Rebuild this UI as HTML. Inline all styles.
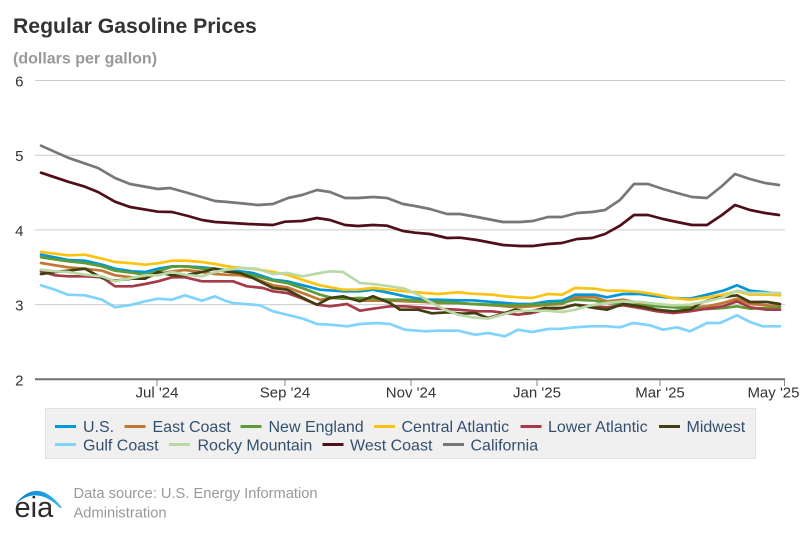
<!DOCTYPE html>
<html>
<head>
<meta charset="utf-8">
<style>
  html,body{margin:0;padding:0;background:#fff;}
  svg{display:block;}
  text{font-family:"Liberation Sans",Arial,sans-serif;}
</style>
</head>
<body>
<svg width="800" height="533" viewBox="0 0 800 533" xmlns="http://www.w3.org/2000/svg">
  <rect x="0" y="0" width="800" height="533" fill="#ffffff"/>

  <!-- Title -->
  <text x="13" y="33" font-size="21.2" font-weight="bold" fill="#333333">Regular Gasoline Prices</text>
  <text x="13" y="63.5" font-size="16" font-weight="bold" fill="#999999">(dollars per gallon)</text>

  <!-- Gridlines -->
  <g stroke="#cccccc" stroke-width="1">
    <line x1="35" y1="80.5" x2="785" y2="80.5"/>
    <line x1="35" y1="155.2" x2="785" y2="155.2"/>
    <line x1="35" y1="229.9" x2="785" y2="229.9"/>
    <line x1="35" y1="304.6" x2="785" y2="304.6"/>
  </g>
  <!-- x axis -->
  <line x1="35" y1="379.3" x2="785" y2="379.3" stroke="#707070" stroke-width="2"/>
  <g stroke="#8a8a8a" stroke-width="1">
    <line x1="157" y1="380" x2="157" y2="386"/>
    <line x1="285" y1="380" x2="285" y2="386"/>
    <line x1="411" y1="380" x2="411" y2="386"/>
    <line x1="537" y1="380" x2="537" y2="386"/>
    <line x1="660" y1="380" x2="660" y2="386"/>
    <line x1="784.5" y1="380" x2="784.5" y2="386"/>
  </g>

  <!-- Y labels -->
  <g font-size="15" fill="#333333" text-anchor="end">
    <text x="23.5" y="86.5">6</text>
    <text x="23.5" y="161.2">5</text>
    <text x="23.5" y="235.9">4</text>
    <text x="23.5" y="310.6">3</text>
    <text x="23.5" y="385.3">2</text>
  </g>
  <!-- X labels -->
  <g font-size="15" fill="#333333" text-anchor="middle">
    <text x="157" y="397.5">Jul '24</text>
    <text x="285" y="397.5">Sep '24</text>
    <text x="411" y="397.5">Nov '24</text>
    <text x="537" y="397.5">Jan '25</text>
    <text x="660" y="397.5">Mar '25</text>
    <text x="799.5" y="397.5" text-anchor="end">May '25</text>
  </g>

  <!-- Series -->
  <g fill="none" stroke-width="2.7" stroke-linejoin="round" stroke-linecap="round">
    <!-- U.S. -->
    <polyline stroke="#0096d7" points="41,254.7 68,260 85,260.7 102,264.7 115,268.7 132,271.3 145,272 158,268.7 172,266.3 185,266.3 202,267.3 215,268.7 225,270 240,271.3 253,273 273,279.7 287,281.3 307,286.3 320,289.7 343,291.3 360,291.3 373,289.7 390,293 405,296.3 425,299.7 438,299.7 458,300.3 472,300.3 492,302 505,303 518,304 532,304 548,301.3 562,300.7 575,294.7 595,294.7 607,297.3 623,294 640,294 657,296.3 673,298 690,298.7 707,294.7 723,290.7 737,285.3 750,290.7 767,292.3 780,294"/>
    <!-- East Coast -->
    <polyline stroke="#c27834" points="41,263 68,267.3 85,268.7 102,270.7 115,275.3 132,277.3 145,278 158,274 172,271.3 185,270 202,272 215,274 225,274.7 240,275.3 253,278 273,285.3 287,287.3 307,294.7 320,299.7 333,298 343,297.3 360,300.7 373,300.7 390,300.7 405,301.3 425,302 438,303 458,303 472,304 492,305.3 505,306.3 518,307.3 532,306.3 548,304.7 562,304 575,297.3 595,297.3 607,301.3 623,299.7 640,303 657,304.7 673,307.3 690,307.3 707,306.3 723,303 737,298.7 750,304 767,305.3 780,306.3"/>
    <!-- New England -->
    <polyline stroke="#5d9b37" points="41,257.3 68,261.3 85,263 102,266.3 115,270.7 132,272.7 145,274.7 158,271.3 172,266.7 185,266.3 202,268.7 215,268.7 225,271.3 240,273 253,275.3 273,280.7 287,283 307,289.7 320,294.7 333,298 343,298.7 360,298 373,298.7 390,299.7 405,299.7 425,301.3 438,302 458,303 472,304 492,304.7 505,305.3 518,305.3 532,304.7 548,304 562,303 575,299.7 595,300.7 607,303 623,304 640,305.3 657,306.3 673,307.3 690,308 707,309 723,308 737,306.3 750,308.7 767,308 780,307.3"/>
    <!-- Central Atlantic -->
    <polyline stroke="#ffc20e" points="41,252 68,255.3 85,254.7 102,258.7 115,262 132,263.3 145,264.7 158,263.3 172,260.7 185,260.7 202,262 215,264 225,266 240,268 253,268.7 273,272 287,274.7 307,281.3 320,285.3 343,289.7 357,289.7 373,288 390,289.7 405,291.3 425,293 438,294 458,292.3 472,293.7 492,294.7 505,296.3 518,297.3 532,298 548,294 562,294.7 575,288 595,288.7 607,290.7 623,290.7 640,292 657,294.7 673,298 690,299.7 707,297.3 723,294.7 737,291.3 750,294.7 767,294.7 780,295.3"/>
    <!-- Lower Atlantic -->
    <polyline stroke="#a63a48" points="41,271.3 55,275.3 68,276.3 85,276.3 102,277.3 115,286.3 132,286.3 145,284 158,281.3 172,277.3 185,277.3 202,281.3 215,281.3 225,281.3 233,281.3 247,286.3 263,288 273,291.3 287,293 303,298.7 317,304.7 330,306.3 347,304 360,310.7 373,308.7 390,306.3 405,306.3 418,307.3 438,308.7 458,309.7 478,311.3 492,311.3 518,314.7 532,313 545,309.7 562,308 575,304.7 595,306.3 607,307.3 623,305.3 640,308 657,311.3 673,313 690,311.3 707,308.7 723,306.3 737,301.3 750,307.3 767,309.7 780,309.7"/>
    <!-- Midwest -->
    <polyline stroke="#433d12" points="41,274 55,272 68,270.7 85,268.7 102,278 115,280.7 132,278.7 145,278.7 158,272 172,275.3 185,275.3 202,272 215,268.7 225,271.3 240,273 253,278 273,288 287,289.7 303,298 317,304.7 330,298 343,296.3 360,301.3 373,296.3 390,303 400,309.7 418,309.7 432,313.3 448,312.3 462,313.7 475,313 488,318 502,314 515,309.7 528,312 545,308 562,308 575,304.7 595,308 607,309.7 623,304 640,306.3 657,309.7 673,311.3 690,309.7 700,303 717,298 737,295.3 750,302 767,302 780,304"/>
    <!-- Gulf Coast -->
    <polyline stroke="#80d3fb" points="41,285.3 55,289.7 68,294.7 85,295.3 102,299.7 115,307.3 132,304.7 145,301.3 158,298.7 172,299.7 185,295.3 202,300.7 215,296.3 225,300.7 233,303 260,305.3 273,311.3 287,314.7 303,318.7 317,324 330,324.7 347,326.3 360,324 377,323 390,324 405,329.7 425,331.3 438,330.7 458,330.7 475,334.7 488,333 505,336.3 518,329.7 532,332 548,329 562,328.7 575,327.3 590,326.3 607,326.3 620,327.3 633,323 650,325.3 663,329.7 677,327.3 690,331.3 707,323 720,323 737,315.3 750,322 763,326.3 780,326.3"/>
    <!-- Rocky Mountain -->
    <polyline stroke="#b9d9a7" points="41,269.7 55,271.3 68,272 85,274.7 102,276.3 115,281.3 132,278 145,275.3 158,275.3 172,272 185,274.7 202,276.3 215,272 225,270 240,268 257,268.7 273,274 287,273 303,276.3 320,273 330,271.3 343,272 360,283 373,284 390,286.3 405,288.7 418,294.7 432,303 445,309.7 458,314.7 472,317.3 488,318.7 502,314.7 515,311.3 532,310.7 548,310.7 562,312 575,309.7 590,305.5 607,303 623,301.3 640,302 657,304 673,305.3 690,304.7 707,301.3 723,297.3 737,290.7 750,293 767,293 780,293"/>
    <!-- West Coast -->
    <polyline stroke="#4f0f18" points="41,172.7 68,181.7 85,186.7 98,192 115,201.7 130,207 158,211.7 172,212 188,216 202,220 215,222 232,223 248,224 273,225 285,221.7 302,221 317,218 330,220 345,225 358,226 373,225 387,225.7 403,231 415,232.7 430,234 447,238 460,237.7 477,240 503,245 520,246 533,246 548,244 562,243 577,239 592,238 605,234 620,225.7 634,215 648,215 663,219 677,222 692,225 707,225 722,215 735,205 750,210 765,213 779,215"/>
    <!-- California -->
    <polyline stroke="#777777" points="41,145.7 68,157.7 98,168 115,178 130,184 158,189 170,188 188,193 215,201 228,202 248,204 258,205 273,204 288,198 302,195 317,190 330,192 345,198 358,198 373,197 387,198 403,204 415,206 430,209 447,214 460,214 477,217 503,222 520,222 533,221 548,217 562,217 577,213 592,212 605,210 620,200 634,184 648,184 663,189 677,193 692,197 707,198 722,186 735,174 750,179 765,183 779,185"/>
  </g>

  <!-- Legend -->
  <rect x="45.5" y="408.5" width="710" height="50" fill="#f0f0f0" stroke="#e2e2e2" stroke-width="1"/>
  <g stroke-width="3" stroke-linecap="butt">
    <line x1="55" y1="426.5" x2="76" y2="426.5" stroke="#0096d7"/>
    <line x1="124.5" y1="426.5" x2="145.5" y2="426.5" stroke="#c27834"/>
    <line x1="240.5" y1="426.5" x2="261.5" y2="426.5" stroke="#5d9b37"/>
    <line x1="374" y1="426.5" x2="395" y2="426.5" stroke="#ffc20e"/>
    <line x1="520.5" y1="426.5" x2="541.5" y2="426.5" stroke="#a63a48"/>
    <line x1="659" y1="426.5" x2="680" y2="426.5" stroke="#433d12"/>
    <line x1="55" y1="444.5" x2="76" y2="444.5" stroke="#80d3fb"/>
    <line x1="169" y1="444.5" x2="190" y2="444.5" stroke="#b9d9a7"/>
    <line x1="322.5" y1="444.5" x2="343.5" y2="444.5" stroke="#4f0f18"/>
    <line x1="443" y1="444.5" x2="464" y2="444.5" stroke="#777777"/>
  </g>
  <g font-size="16" fill="#34506e">
    <text x="83" y="432">U.S.</text>
    <text x="152.5" y="432">East Coast</text>
    <text x="268.5" y="432">New England</text>
    <text x="401.5" y="432">Central Atlantic</text>
    <text x="548" y="432">Lower Atlantic</text>
    <text x="686.5" y="432">Midwest</text>
    <text x="83" y="450.5">Gulf Coast</text>
    <text x="197.5" y="450.5">Rocky Mountain</text>
    <text x="350" y="450.5">West Coast</text>
    <text x="470.5" y="450.5">California</text>
  </g>

  <!-- EIA logo -->
  <defs>
    <linearGradient id="arcg" x1="0" y1="0" x2="1" y2="0">
      <stop offset="0" stop-color="#0a7fc4"/>
      <stop offset="0.6" stop-color="#1a9ee0"/>
      <stop offset="1" stop-color="#45b8ef"/>
    </linearGradient>
  </defs>
  <path d="M15.5,504 Q37,476 62,507.5 L60,508 Q37,485 15.5,504 Z" fill="url(#arcg)"/>
  <text x="14.5" y="517" font-size="29" fill="#2b2b2b">eia</text>
  <text x="73.5" y="498" font-size="14.7" fill="#999999">Data source: U.S. Energy Information</text>
  <text x="73.5" y="517.5" font-size="14.7" fill="#999999">Administration</text>
</svg>
</body>
</html>
